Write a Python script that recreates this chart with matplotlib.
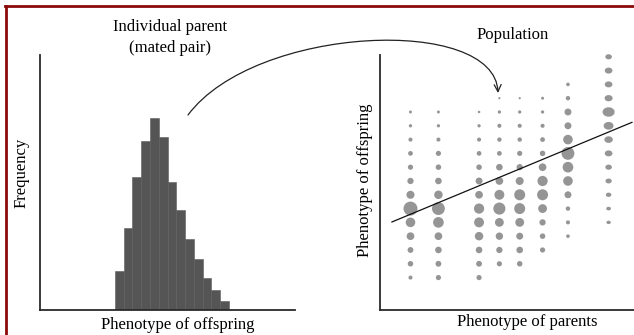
import numpy as np
import matplotlib
matplotlib.use('Agg')
import matplotlib.pyplot as plt
from matplotlib.path import Path
from matplotlib.patches import FancyArrowPatch
from matplotlib.lines import Line2D

plt.rcParams['font.family'] = ['Liberation Serif', 'DejaVu Serif']

W, H = 634, 335

# 左图: 一对亲本的子代表型频数 (13 个区间)
hist_bins = np.arange(13)
hist_freq = [39, 82, 133, 169, 192, 173, 128, 100, 71, 51, 32, 20, 9]

# 右图: 亲本表型 (列) 与子代表型 (行)
parent_x = [12, 23, 39, 47, 55, 64, 74, 90]
offspring_levels = [2.35 + j for j in range(17)]
col_start = [0, 0, 0, 1, 1, 2, 3, 4]
# 点直径 (px), 自下而上
dot_diam = [
    [3.7, 5, 5.3, 7, 8.7, 12.7, 7.3, 5.7, 4.7, 4.3, 3.7, 3, 2.7],
    [4.7, 5.3, 6, 7, 9.7, 11.7, 7.7, 6, 5, 4.7, 3.7, 3, 2.7],
    [4.7, 5.3, 6, 7.7, 9, 9.3, 7, 6.3, 5, 4.3, 3.7, 3, 2.3],
    [4.7, 5.7, 6.7, 8, 11, 9, 7, 6, 4.3, 4, 3.7, 3, 2],
    [5, 6, 6.3, 8, 10, 10, 7.3, 5.7, 4.7, 4, 3.7, 3, 2],
    [4.7, 5, 5.7, 8, 10, 9.3, 7, 5, 4.3, 3.7, 3, 2.7],
    [3.3, 3.7, 4, 6.3, 8.7, 9.7, 11.7, 8.7, 6.3, 6.3, 4, 3.3],
    [4, 4.3, 5, 5.7, 6, 7, 7.7, 9, 11, 7.3, 7, 7, 6],
]
fit_x = [4.7, 99.2]
fit_y = [6.38, 13.6]


def fx(x):
    return x / W


def fy(y):
    return 1 - y / H


fig = plt.figure(figsize=(W / 100, H / 100), dpi=100)

ax1 = fig.add_axes([fx(40), fy(310), (295 - 40) / W, (310 - 55) / H])
ax2 = fig.add_axes([fx(380), fy(310), (634 - 380) / W, (310 - 55) / H])

for ax in (ax1, ax2):
    for s in ('top', 'right'):
        ax.spines[s].set_visible(False)
    for s in ('left', 'bottom'):
        ax.spines[s].set_color('#2a2a2a')
        ax.spines[s].set_linewidth(1.3)
    ax.set_xticks([])
    ax.set_yticks([])
    ax.patch.set_alpha(0)

ax1.bar(hist_bins, hist_freq, width=1.0, color='#555555', edgecolor='#5c5c5c', linewidth=0.4)
ax1.set_xlim(-9.05, 20.05)
ax1.set_ylim(0, 255)

# 椭圆形标记用于最右一列
t = np.linspace(0, 2 * np.pi, 40)
ellipse = Path(np.column_stack([np.cos(t), 0.78 * np.sin(t)]), closed=True)

for i, xv in enumerate(parent_x):
    d = np.array(dot_diam[i])
    ys = offspring_levels[col_start[i]:col_start[i] + len(d)]
    sizes = (d * 0.72 * 1.1) ** 2
    marker = ellipse if i == len(parent_x) - 1 else 'o'
    ax2.scatter([xv] * len(d), ys, s=sizes, c='#959595', marker=marker,
                linewidths=0, clip_on=False, zorder=2)

ax2.plot(fit_x, fit_y, color='#111111', lw=0.9, clip_on=False, zorder=3)
ax2.set_xlim(0, 100)
ax2.set_ylim(0, 18.48)

# 文字
fs = 12
fig.text(fx(170), fy(27), 'Individual parent', ha='center', va='center', fontsize=fs)
fig.text(fx(170), fy(48), '(mated pair)', ha='center', va='center', fontsize=fs)
fig.text(fx(22), fy(173), 'Frequency', ha='center', va='center', rotation=90, fontsize=fs)
fig.text(fx(178), fy(325), 'Phenotype of offspring', ha='center', va='center', fontsize=fs)
fig.text(fx(513), fy(35), 'Population', ha='center', va='center', fontsize=fs)
fig.text(fx(365), fy(180), 'Phenotype of offspring', ha='center', va='center', rotation=90, fontsize=fs)
fig.text(fx(527), fy(322), 'Phenotype of parents', ha='center', va='center', fontsize=fs)

# 弧形箭头
pts = [(188, 115), (255, 25), (495, 15), (498, 93)]
arc = Path([(fx(x), fy(y)) for x, y in pts],
           [Path.MOVETO, Path.CURVE4, Path.CURVE4, Path.CURVE4])
arrow = FancyArrowPatch(path=arc, arrowstyle='->,head_length=5,head_width=2.5',
                        color='#222222', lw=0.9, transform=fig.transFigure)
fig.add_artist(arrow)

# 左侧和顶部的暗红色边框
red = '#8b0a0a'
fig.add_artist(Line2D([fx(6), fx(6)], [fy(6), 0], color=red, lw=2, transform=fig.transFigure))
fig.add_artist(Line2D([fx(5), 1], [fy(6), fy(6)], color=red, lw=2, transform=fig.transFigure))

fig.savefig('out.png', dpi=100)
